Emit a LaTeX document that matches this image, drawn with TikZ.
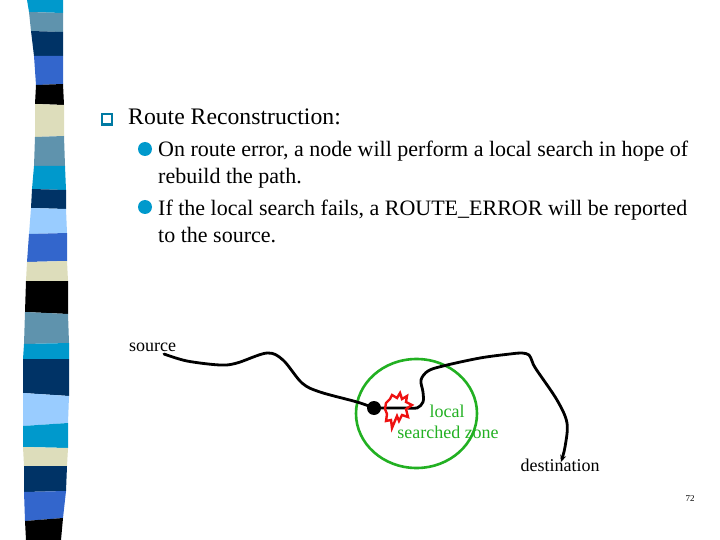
\documentclass[tikz,border=0pt]{standalone}
\usepackage{fontspec}
\setmainfont{Liberation Serif}
\usetikzlibrary{positioning,arrows.meta,shapes.geometric}
\definecolor{stripecyan}{HTML}{0099CC}
\definecolor{stripesteel}{HTML}{5F93AD}
\definecolor{stripenavy}{HTML}{003366}
\definecolor{stripeblue}{HTML}{3366CC}
\definecolor{stripebeige}{HTML}{DDDDBB}
\definecolor{stripesky}{HTML}{99CCFF}
\definecolor{zonegreen}{HTML}{22B022}
\definecolor{burstred}{HTML}{EE1111}
\tikzset{
  headtext/.style={inner sep=0pt,anchor=base west,font=\fontsize{23.7}{28}\selectfont},
  maintext/.style={inner sep=0pt,anchor=base west,font=\fontsize{22}{26}\selectfont},
  subtext/.style={inner sep=0pt,anchor=base,font=\fontsize{18}{22}\selectfont},
  route/.style={draw=black,line width=2.8pt,line cap=round,line join=round},
  zone/.style={shape=ellipse,draw=zonegreen,line width=2.6pt,minimum width=121pt,minimum height=109pt,inner sep=0pt},
  bulletdot/.style={shape=circle,fill=stripecyan,minimum size=14pt,inner sep=0pt},
}
\begin{document}
\begin{tikzpicture}[x=1pt,y=-1pt]
    \useasboundingbox (0,0) rectangle (720,540);

    % stripes down the left side
    \foreach \col/\xl/\yl/\xr/\yr [remember=\xl as \pxl (initially 27),remember=\yl as \pyl (initially 0),remember=\xr as \pxr (initially 63),remember=\yr as \pyr (initially 0)] in {
        stripecyan/29/12/63/13, stripesteel/31/31/63/32, stripenavy/34/56/63/56,
        stripeblue/36/85/63/84, black/35/104/64/105, stripebeige/35/137/64/136,
        stripesteel/34/166/65/166, stripecyan/32/189/66/190, stripenavy/31/208/66/209,
        stripesky/29/234/67/233, stripeblue/27/262/67/261, stripebeige/26/281/68/281,
        black/25/312/68/314, stripesteel/24/344/69/343, stripecyan/23/359/69/359,
        stripenavy/23/393/69/396, stripesky/23/426/68/423, stripecyan/23/447/68/448,
        stripebeige/24/466/67/466, stripenavy/24/492/66/491, stripeblue/25/521/63/518,
        black/26/540/61/540}
        \fill[\col] (\pxl,\pyl) -- (\pxr,\pyr) -- (\xr,\yr) -- (\xl,\yl) -- cycle;

    % bullets
    \node[shape=rectangle,draw=stripecyan!80!black,line width=1.4pt,fill=white,minimum size=10pt,inner sep=0pt] (B0) at (107,119) {};
    \draw[stripecyan!80!black,line width=2.6pt] (B0.south west) -- (B0.south east);
    \node[bulletdot] (B1) at (145,149) {};
    \node[bulletdot] (B2) at (145,207) {};

    % text
    \node[headtext] (T0) at (128,125) {Route Reconstruction:};
    \node[maintext] (T1) at (158,157) {On route error, a node will perform a local search in hope of};
    \node[maintext] (T2) at (158,184) {rebuild the path.};
    \node[maintext] (T3) at (158,215) {If the local search fails, a ROUTE\_ERROR will be reported};
    \node[maintext] (T4) at (158,242) {to the source.};

    % route and zone
    \node[zone] (Z) at (416.5,413.5) {};
    \coordinate (S) at (164,354);
    \coordinate (D) at (561,462);
    \node[shape=circle,fill=black,minimum size=14pt,inner sep=0pt] (N) at (374,408) {};
    \draw[route] plot[smooth,tension=0.55] coordinates {(S) (187,361) (220,365) (237,363) (267,353) (283,360) (302,383) (320,392) (357,402) (N)};
    \draw[route,-{Stealth[length=7pt,width=6pt]}] plot[smooth,tension=0.55] coordinates {(N) (405,408) (417,408) (423,402) (423,392) (421,380) (428,371) (443,366) (480,358) (510,354) (522,353) (529,355) (532,361) (536,369) (557,400) (567,423) (565,447) (D)};

    % broken link
    \draw[draw=burstred,line width=2.4pt,line join=miter] (386,403) -- (390,399) -- (392,395) -- (397,398) -- (400,393) -- (402,399) -- (407,396) -- (406,402) -- (412,405) -- (406,409) -- (408,417) -- (402,415) -- (399,421) -- (397,416) -- (392,428) -- (391,420) -- (386,421) -- (387,414) -- (385,409) -- cycle;

    % labels
    \node[subtext] (Ls) at (152.5,351) {source};
    \node[subtext,text=zonegreen] (Ll) at (447,417) {local};
    \node[subtext,text=zonegreen] (Lz) at (448,438) {searched zone};
    \node[subtext] (Ld) at (560,471) {destination};
    \node[inner sep=0pt,anchor=base,font=\fontsize{9}{10}\selectfont] (P) at (690,501) {72};
\end{tikzpicture}
\end{document}
